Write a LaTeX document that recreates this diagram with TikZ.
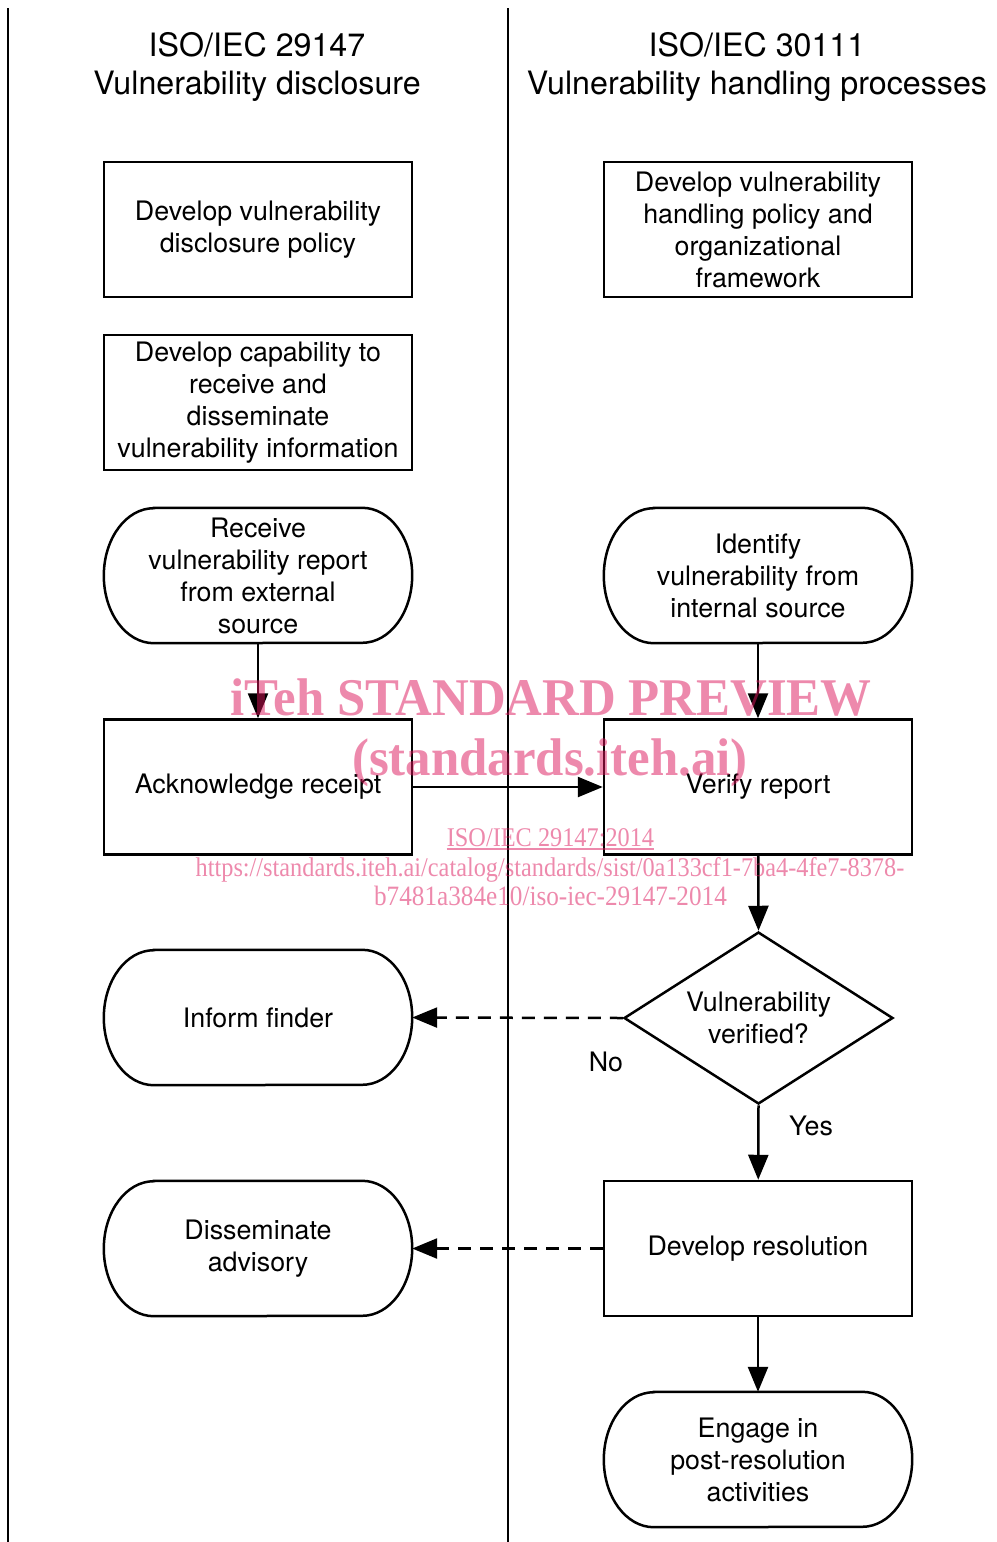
\documentclass[tikz,border=0pt]{standalone}
\usepackage{fontspec}
\setmainfont{TeX Gyre Heros}
\newfontfamily\wmbig[FakeStretch=0.96]{Liberation Serif}
\newfontfamily\wmsmall[FakeStretch=0.9]{Liberation Serif}
\usetikzlibrary{arrows.meta,shapes.geometric}
\definecolor{wmpink}{RGB}{220,20,90}
\newcommand\termoutline[1]{%
  \draw[outline] ([xshift=50pt]#1.north west) -- ([xshift=-50pt]#1.north east)
    arc[start angle=90,end angle=-90,x radius=50pt,y radius=67.5pt]
    -- ([xshift=50pt]#1.south west)
    arc[start angle=270,end angle=90,x radius=50pt,y radius=67.5pt] -- cycle;}
\begin{document}
\begin{tikzpicture}[x=1pt,y=1pt,
  txt/.style={font=\fontsize{26.8}{32}\selectfont},
  box/.style={txt,draw,line width=2.5pt,rectangle,minimum width=308pt,minimum height=135pt,inner sep=0pt,align=center},
  term/.style={txt,rectangle,minimum width=308pt,minimum height=135pt,inner sep=0pt,align=center},
  dia/.style={txt,draw,line width=2.5pt,diamond,aspect=1.564,minimum width=269pt,minimum height=172pt,inner sep=0pt,align=center},
  outline/.style={line width=2.5pt},
  title/.style={align=center,font=\fontsize{32.2}{38}\selectfont},
  lane/.style={line width=2.5pt},
  arr/.style={line width=2.5pt,-{Triangle[length=25pt,width=20pt]}},
  darr/.style={arr,dash pattern=on 13pt off 9pt},
  wm/.style={inner sep=0pt,anchor=base,text=wmpink,text opacity=0.5},
  wmline/.style={draw=wmpink,draw opacity=0.5,line width=1.5pt}]
\useasboundingbox (0,0) rectangle (996,-1542);
% swim lanes
\coordinate (l1t) at (8,-8);
\coordinate (l1b) at (8,-1542);
\coordinate (l2t) at (508,-8);
\coordinate (l2b) at (508,-1542);
\draw[lane] (l1t) -- (l1b);
\draw[lane] (l2t) -- (l2b);
% titles
\node[title] (t1) at (257,-67) {ISO/IEC 29147\\Vulnerability disclosure};
\node[title] (t2) at (757,-67) {ISO/IEC 30111\\Vulnerability handling processes};
% left column
\node[box] (pol) at (258,-229.5) {Develop vulnerability\\disclosure policy};
\node[box] (cap) at (258,-402.5) {Develop capability to\\receive and\\disseminate\\vulnerability information};
\node[term] (recv) at (258,-575.5) {Receive\\vulnerability report\\from external\\source};
\termoutline{recv}
\node[box] (ack) at (258,-787) {Acknowledge receipt};
\node[term] (inf) at (258,-1017.5) {Inform finder};
\termoutline{inf}
\node[term] (dis) at (258,-1248.5) {Disseminate\\advisory};
\termoutline{dis}
% right column
\node[box] (hpol) at (758,-229.5) {Develop vulnerability\\handling policy and\\organizational\\framework};
\node[term] (ident) at (758,-575.5) {Identify\\vulnerability from\\internal source};
\termoutline{ident}
\node[box] (ver) at (758,-787) {Verify report};
\node[dia] (dec) at (758.5,-1018) {Vulnerability\\verified?};
\node[box] (res) at (758,-1248.5) {Develop resolution};
\node[term] (eng) at (758,-1459.5) {Engage in\\post-resolution\\activities};
\termoutline{eng}
% labels
\node[txt] (no) at (606,-1062) {No};
\node[txt] (yes) at (811,-1126) {Yes};
% connectors
\draw[arr] (recv) -- (ack);
\draw[arr] (ident) -- (ver);
\draw[arr] (ack) -- (ver);
\draw[arr] (ver) -- (dec.north);
\draw[arr] (dec.south) -- (res);
\draw[arr] (res) -- (eng);
\draw[darr] (dec.west) -- (inf.east);
\draw[darr] (res.west) -- (dis.east);
% watermark
\node[wm,font=\wmbig\bfseries\fontsize{53}{60}\selectfont] (wm1) at (551,-715) {iTeh STANDARD PREVIEW};
\node[wm,font=\wmbig\bfseries\fontsize{53}{60}\selectfont] (wm2) at (550,-775) {(standards.iteh.ai)};
\node[wm,font=\wmsmall\fontsize{27}{30}\selectfont] (wm3) at (550.5,-846) {ISO/IEC 29147:2014};
\draw[wmline] ([yshift=-3pt]wm3.base west) -- ([yshift=-3pt]wm3.base east);
\node[wm,font=\wmsmall\fontsize{27}{30}\selectfont] (wm4) at (550,-876) {https://standards.iteh.ai/catalog/standards/sist/0a133cf1-7ba4-4fe7-8378-};
\node[wm,font=\wmsmall\fontsize{28}{30}\selectfont] (wm5) at (550.5,-905) {b7481a384e10/iso-iec-29147-2014};
\end{tikzpicture}
\end{document}
